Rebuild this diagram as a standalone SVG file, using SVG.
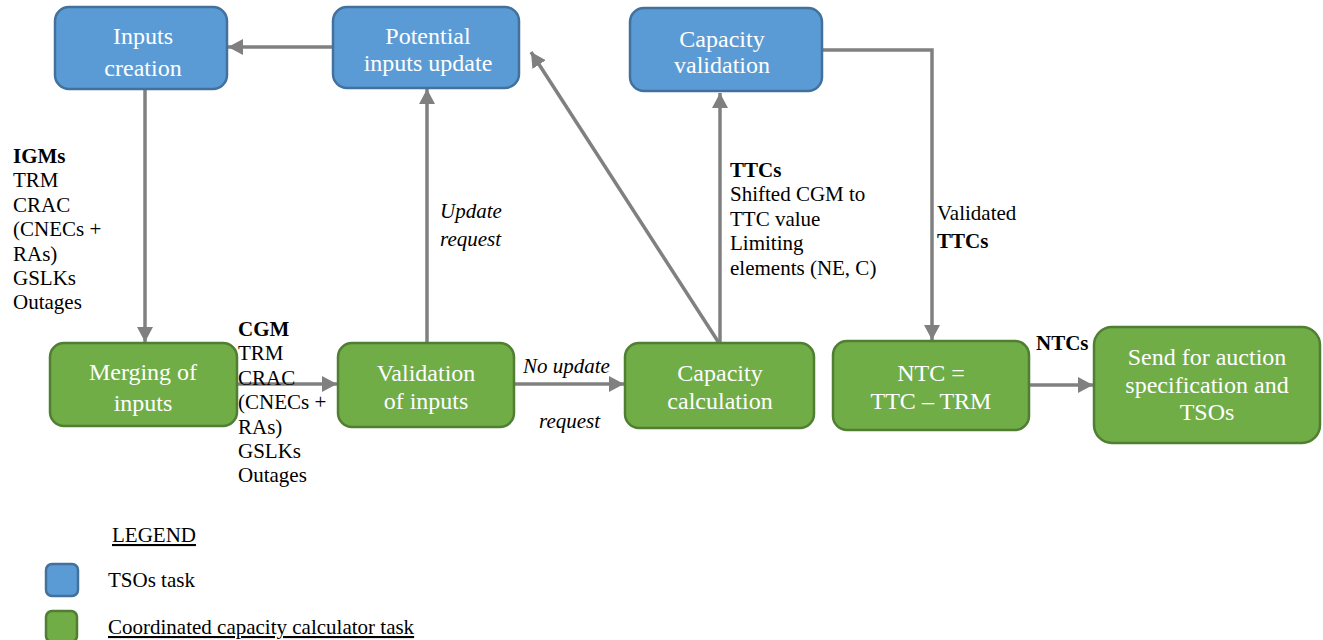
<svg xmlns="http://www.w3.org/2000/svg" width="1323" height="640" viewBox="0 0 1323 640">
<style>
.blue{fill:#5B9BD5;stroke:#41719C;stroke-width:2.5}
.green{fill:#70AD47;stroke:#507E32;stroke-width:2.5}
.bt{font-family:"Liberation Serif","Times New Roman",serif;font-size:24px;fill:#fff;text-anchor:middle}
.lb{font-family:"Liberation Serif","Times New Roman",serif;font-size:21px;fill:#000}
.b{font-weight:bold}
.i{font-style:italic}
.c{fill:none;stroke:#808080;stroke-width:3.5}
</style>
<defs>
<marker id="ah" markerUnits="userSpaceOnUse" markerWidth="18" markerHeight="18" refX="15" refY="8" orient="auto">
<path d="M0,0 L15,8 L0,16 Z" fill="#808080"/>
</marker>
</defs>
<rect width="1323" height="640" fill="#fff"/>
<g id="connectors">
<line class="c" x1="333" y1="47" x2="228" y2="47" marker-end="url(#ah)"/>
<line class="c" x1="145" y1="90" x2="145" y2="342" marker-end="url(#ah)"/>
<line class="c" x1="237" y1="384" x2="337" y2="384" marker-end="url(#ah)"/>
<line class="c" x1="427" y1="343" x2="427" y2="89" marker-end="url(#ah)"/>
<line class="c" x1="514" y1="384" x2="624" y2="384" marker-end="url(#ah)"/>
<line class="c" x1="719" y1="343" x2="531" y2="52" marker-end="url(#ah)"/>
<line class="c" x1="720" y1="343" x2="720" y2="93" marker-end="url(#ah)"/>
<polyline class="c" points="822,50 932,50 932,340" marker-end="url(#ah)"/>
<line class="c" x1="1029" y1="385" x2="1093" y2="385" marker-end="url(#ah)"/>
</g>
<g id="inputs-creation">
<rect class="blue" x="55" y="7" width="172" height="82" rx="14"/>
<text class="bt" x="143" y="44">Inputs</text>
<text class="bt" x="143" y="76">creation</text>
</g>
<g id="potential-inputs-update">
<rect class="blue" x="333" y="7" width="186" height="81" rx="14"/>
<text class="bt" x="428" y="44">Potential</text>
<text class="bt" x="428" y="71">inputs update</text>
</g>
<g id="capacity-validation">
<rect class="blue" x="630" y="8" width="192" height="83" rx="14"/>
<text class="bt" x="722" y="47">Capacity</text>
<text class="bt" x="722" y="73">validation</text>
</g>
<g id="merging-of-inputs">
<rect class="green" x="50" y="343" width="187" height="83" rx="14"/>
<text class="bt" x="143" y="380">Merging of</text>
<text class="bt" x="143" y="411">inputs</text>
</g>
<g id="validation-of-inputs">
<rect class="green" x="338" y="343" width="176" height="84" rx="14"/>
<text class="bt" x="426" y="381">Validation</text>
<text class="bt" x="426" y="409">of inputs</text>
</g>
<g id="capacity-calculation">
<rect class="green" x="625" y="343" width="189" height="85" rx="14"/>
<text class="bt" x="720" y="381">Capacity</text>
<text class="bt" x="720" y="409">calculation</text>
</g>
<g id="ntc">
<rect class="green" x="833" y="341" width="196" height="89" rx="14"/>
<text class="bt" x="931" y="381">NTC =</text>
<text class="bt" x="931" y="409">TTC – TRM</text>
</g>
<g id="send-for-auction">
<rect class="green" x="1094" y="327" width="226" height="116" rx="18"/>
<text class="bt" x="1207" y="365">Send for auction</text>
<text class="bt" x="1207" y="393">specification and</text>
<text class="bt" x="1207" y="420">TSOs</text>
</g>
<g id="labels">
<text class="lb" x="13" y="163"><tspan class="b">IGMs</tspan><tspan x="13" dy="24.4">TRM</tspan><tspan x="13" dy="24.4">CRAC</tspan><tspan x="13" dy="24.4">(CNECs +</tspan><tspan x="13" dy="24.4">RAs)</tspan><tspan x="13" dy="24.4">GSLKs</tspan><tspan x="13" dy="24.4">Outages</tspan></text>
<text class="lb" x="238" y="336"><tspan class="b">CGM</tspan><tspan x="238" dy="24.4">TRM</tspan><tspan x="238" dy="24.4">CRAC</tspan><tspan x="238" dy="24.4">(CNECs +</tspan><tspan x="238" dy="24.4">RAs)</tspan><tspan x="238" dy="24.4">GSLKs</tspan><tspan x="238" dy="24.4">Outages</tspan></text>
<text class="lb i" x="440" y="218">Update</text>
<text class="lb i" x="440" y="246">request</text>
<text class="lb i" x="523" y="373">No update</text>
<text class="lb i" x="539" y="428">request</text>
<text class="lb" x="730" y="177"><tspan class="b">TTCs</tspan><tspan x="730" dy="24.4">Shifted CGM to</tspan><tspan x="730" dy="24.4">TTC value</tspan><tspan x="730" dy="24.4">Limiting</tspan><tspan x="730" dy="24.4">elements (NE, C)</tspan></text>
<text class="lb" x="937" y="220">Validated</text>
<text class="lb b" x="937" y="248">TTCs</text>
<text class="lb b" x="1036" y="350">NTCs</text>
</g>
<g id="legend">
<text class="lb" x="112" y="542" text-decoration="underline">LEGEND</text>
<rect class="blue" x="46" y="564" width="32" height="32" rx="6"/>
<text class="lb" x="108" y="587">TSOs task</text>
<rect class="green" x="46" y="611" width="31" height="31" rx="6"/>
<text class="lb" x="108" y="634" text-decoration="underline">Coordinated capacity calculator task</text>
</g>
</svg>
